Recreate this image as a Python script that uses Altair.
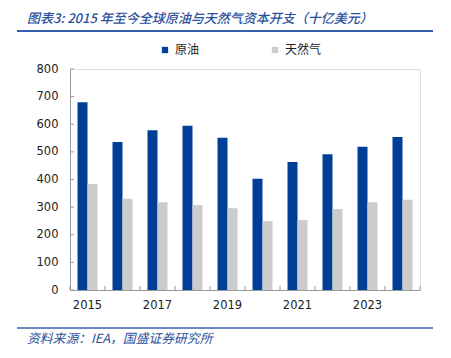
import altair as alt
import pandas as pd

years = ["2015", "2016", "2017", "2018", "2019", "2020", "2021", "2022", "2023", "2024"]
crude = [680, 536, 578, 595, 551, 403, 463, 491, 519, 554]
gas = [384, 330, 318, 308, 296, 249, 253, 293, 318, 327]
series = ["原油", "天然气"]
colors = ["#003F98", "#CCCCCC"]
y_ticks = [0, 100, 200, 300, 400, 500, 600, 700, 800]
title_text = "图表3:  2015 年至今全球原油与天然气资本开支（十亿美元）"
source_text = "资料来源：IEA，国盛证券研究所"

rows = []
for i, yr in enumerate(years):
    rows.append({"year": yr, "series": series[0], "value": crude[i]})
    rows.append({"year": yr, "series": series[1], "value": gas[i]})
df = pd.DataFrame(rows)
df_years = pd.DataFrame({"year": years})
df_last = pd.DataFrame({"year": years[-1:]})
df_yt = pd.DataFrame({"value": y_ticks})

W, H = 350, 221
CJK = "Noto Sans CJK SC"
BLUE_TXT = "#2C509C"
LINE = "#3461AE"
AX = "#999999"

xscale = alt.Scale(domain=years, paddingInner=0, paddingOuter=0)
yscale = alt.Scale(domain=[0, 800], nice=False)

x_axis = alt.Axis(title=None, labelAngle=0, tickSize=0, domainColor=AX,
                  labelPadding=9, labelFont="DejaVu Sans", labelFontSize=11.5,
                  labelColor="#222222",
                  labelExpr="toNumber(datum.value) % 2 == 1 ? datum.label : ''")
y_axis = alt.Axis(title=None, values=y_ticks, tickSize=0, grid=False, domainColor=AX,
                  labelOverlap=False, labelFlush=False,
                  labelPadding=12, labelFont="DejaVu Sans", labelFontSize=11.5,
                  labelColor="#222222")

bars = alt.Chart(df).mark_bar().encode(
    x=alt.X("year:N", scale=xscale, sort=years, axis=x_axis),
    xOffset=alt.XOffset("series:N", sort=series,
                        scale=alt.Scale(domain=series, paddingInner=0, paddingOuter=0.75)),
    y=alt.Y("value:Q", scale=yscale, axis=y_axis),
    color=alt.Color("series:N", sort=series,
                    scale=alt.Scale(domain=series, range=colors),
                    legend=alt.Legend(title=None, orient="none", legendX=89, legendY=-25,
                                      direction="horizontal", symbolType="square",
                                      symbolSize=40, symbolStrokeWidth=0,
                                      labelFont=CJK, labelFontSize=12, labelColor="#222222",
                                      labelOffset=4, columnPadding=69, padding=0)),
)

xticks = alt.Chart(df_years).mark_rule(color=AX, strokeWidth=1).encode(
    x=alt.X("year:N", scale=xscale, sort=years, bandPosition=0, axis=x_axis),
    y=alt.value(H - 4), y2=alt.value(H),
)
xtick_last = alt.Chart(df_last).mark_rule(color=AX, strokeWidth=1).encode(
    x=alt.X("year:N", scale=xscale, sort=years, bandPosition=1, axis=x_axis),
    y=alt.value(H - 4), y2=alt.value(H),
)
yticks = alt.Chart(df_yt).mark_rule(color=AX, strokeWidth=1).encode(
    y=alt.Y("value:Q", scale=yscale, axis=y_axis),
    x=alt.value(0), x2=alt.value(4),
)

title = alt.Chart(pd.DataFrame({"t": [title_text]})).mark_text(
    align="left", baseline="top", font=CJK, fontSize=13, fontStyle="italic",
    fontWeight=500, color=BLUE_TXT
).encode(text="t:N", x=alt.value(-43), y=alt.value(-56))

top_line = alt.Chart(pd.DataFrame({"a": [0]})).mark_rule(color=LINE, strokeWidth=2).encode(
    x=alt.value(-53), x2=alt.value(363), y=alt.value(-38))
bot_line = alt.Chart(pd.DataFrame({"a": [0]})).mark_rule(color=LINE, strokeWidth=1.5).encode(
    x=alt.value(-53), x2=alt.value(363), y=alt.value(259))

source = alt.Chart(pd.DataFrame({"t": [source_text]})).mark_text(
    align="left", baseline="middle", font=CJK, fontSize=12.8, fontStyle="italic",
    color=BLUE_TXT
).encode(text="t:N", x=alt.value(-43), y=alt.value(270))

chart = alt.layer(bars, xticks, xtick_last, yticks, title, top_line, bot_line, source).properties(
    width=W, height=H, padding={"left": 8, "top": 5, "right": 5, "bottom": 5}
).configure_view(stroke=None).configure(background="white")

chart.save("out.html", embed_options={"renderer": "svg", "actions": False})
